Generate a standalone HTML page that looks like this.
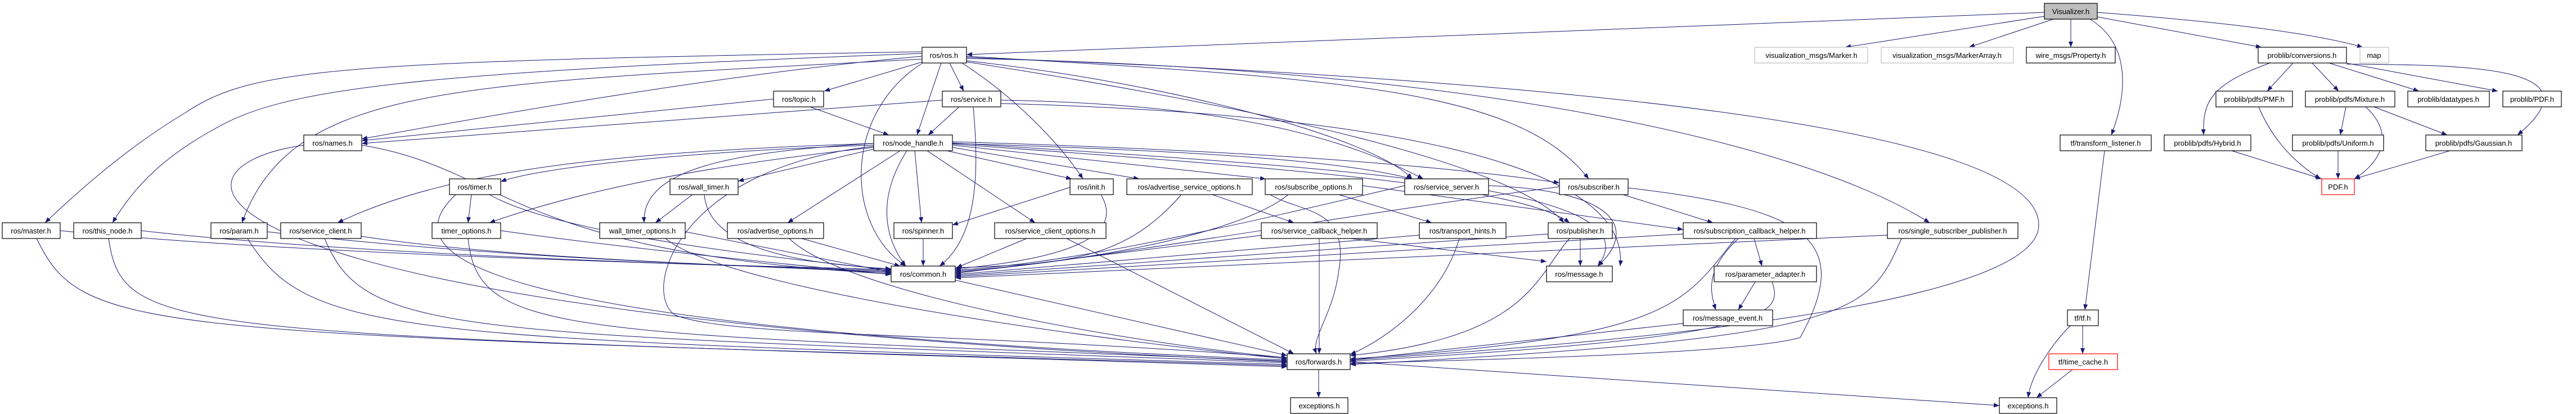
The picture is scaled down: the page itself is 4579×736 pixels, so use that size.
<!DOCTYPE html>
<html><head><meta charset="utf-8"><style>
html,body{margin:0;padding:0;background:#fff;}
svg{display:block;}
text{font-family:"Liberation Sans",sans-serif;font-size:13px;fill:#000;}
</style></head><body>
<svg width="4579" height="736" viewBox="0 0 4579 736" xmlns="http://www.w3.org/2000/svg">
<defs><marker id="a" viewBox="0 0 10 10" refX="10" refY="5" markerWidth="10" markerHeight="10" markerUnits="userSpaceOnUse" orient="auto"><path d="M0,1 L10,5 L0,9 z" fill="#191970"/></marker></defs>
<g fill="none" stroke="#191970" stroke-width="1" marker-end="url(#a)">
<!-- Visualizer -->
<path d="M3634,22 L1718,97"/>
<path d="M3640,28 L3280,84"/>
<path d="M3650,34 L3500,84"/>
<path d="M3681,34 L3681,84"/>
<path d="M3715,34 C3790,80 3780,170 3753,240"/>
<path d="M3728,30 L4020,84"/>
<path d="M3728,22 C3900,35 4100,55 4200,84"/>
<!-- conversions -->
<path d="M4035,112 C3930,150 3915,180 3917,240"/>
<path d="M4076,112 L4030,162"/>
<path d="M4110,112 L4157,162"/>
<path d="M4140,112 L4300,162"/>
<path d="M4170,112 L4440,162"/>
<path d="M4171,114 C4400,115 4620,120 4475,240"/>
<path d="M4015,190 C4040,250 4080,290 4125,318"/>
<path d="M4170,190 L4160,240"/>
<path d="M4205,190 C4260,240 4230,290 4185,318"/>
<path d="M4220,190 L4350,240"/>
<path d="M3967,268 L4127,318"/>
<path d="M4156,268 L4156,318"/>
<path d="M4355,268 L4185,318"/>
<path d="M3741,268 L3706,551"/>
<path d="M3680,579 C3640,620 3610,670 3605,707"/>
<path d="M3702,579 L3702,629"/>
<path d="M3684,657 L3620,707"/>
<path d="M2400,643 L3554,721"/>
<path d="M2344,657 L2344,707"/>
<!-- ros.h -->
<path d="M1640,110 L1465,162"/>
<path d="M1688,112 L1713,162"/>
<path d="M1673,112 L1630,240"/>
<path d="M1640,112 C1500,200 1500,400 1610,473"/>
<path d="M1710,112 C1800,170 1880,250 1925,318"/>
<path d="M1639,100 C1300,130 900,200 643,247"/>
<path d="M1639,92 C600,110 450,120 330,200 C230,260 150,330 80,396"/>
<path d="M1639,95 C700,130 500,160 380,230 C290,280 240,330 200,396"/>
<path d="M1639,105 C800,150 520,150 430,396"/>
<path d="M1718,100 C2400,140 2700,160 2824,318"/>
<path d="M1718,108 C2100,150 2450,250 2510,318"/>
<path d="M1718,110 C2300,200 2700,300 2780,396"/>
<path d="M1718,104 C2600,120 3200,250 3430,396"/>
<path d="M1718,102 C3000,150 3624,250 3624,400 C3624,560 2700,620 2400,640"/>
<!-- topic / service -->
<path d="M1440,190 L1580,240"/>
<path d="M1375,176 L643,250"/>
<path d="M1675,178 L643,255"/>
<path d="M1730,190 C1740,300 1740,420 1670,473"/>
<path d="M1779,178 C2200,185 2400,250 2530,318"/>
<path d="M1705,190 L1650,240"/>
<path d="M1779,184 C2400,200 2900,280 2880,473"/>
<!-- node_handle -->
<path d="M1553,265 L1312,322"/>
<path d="M1553,258 C1200,270 950,300 890,323"/>
<path d="M1553,262 C1200,300 1000,350 870,396"/>
<path d="M1553,255 C1300,270 1140,300 1145,396"/>
<path d="M1553,255 C1100,270 800,300 600,396"/>
<path d="M1600,268 L1400,396"/>
<path d="M1626,268 L1638,396"/>
<path d="M1612,268 C1560,350 1570,420 1610,473"/>
<path d="M1648,268 L1840,396"/>
<path d="M1683,268 L1905,318"/>
<path d="M1693,262 L2025,318"/>
<path d="M1693,258 L2250,318"/>
<path d="M1693,255 C2200,270 2400,290 2510,318"/>
<path d="M1693,252 C2300,270 2600,300 2772,325"/>
<path d="M1693,256 C2300,300 2700,330 2790,396"/>
<path d="M1693,254 C2400,300 2950,330 2840,473"/>
<path d="M1553,260 C1200,300 1140,520 1200,560 C1300,600 1700,590 2288,636"/>
<!-- row4 -->
<path d="M838,346 L832,396"/>
<path d="M870,346 C1000,420 1400,460 1584,480"/>
<path d="M810,346 C700,450 800,580 2288,640"/>
<path d="M1231,346 L1165,396"/>
<path d="M1252,346 C1260,450 1450,470 1584,478"/>
<path d="M1902,333 L1693,400"/>
<path d="M1957,346 C2000,420 1900,460 1698,478"/>
<path d="M2100,346 C2000,460 1900,470 1698,476"/>
<path d="M2155,346 L2300,396"/>
<path d="M2380,346 L2545,396"/>
<path d="M2290,346 C2200,420 1900,470 1698,482"/>
<path d="M2422,330 L2992,408"/>
<path d="M2497,330 C2200,400 1900,470 1698,480"/>
<path d="M2646,330 C2900,340 2900,420 2840,473"/>
<path d="M2772,332 C2400,380 1900,470 1698,484"/>
<path d="M2885,346 L3045,396"/>
<path d="M2894,334 C3200,370 3300,420 3200,600 C3100,630 2600,640 2400,646"/>
<path d="M2249,340 C2300,380 2400,360 2380,480 C2370,560 2330,600 2340,629"/>
<!-- row5 -->
<path d="M107,410 C500,450 1200,470 1584,479"/>
<path d="M65,424 C150,600 250,590 2288,650"/>
<path d="M251,410 C600,450 1200,470 1584,481"/>
<path d="M193,424 C220,600 300,590 2288,652"/>
<path d="M475,412 C800,450 1200,470 1584,483"/>
<path d="M440,424 C550,600 700,600 2288,648"/>
<path d="M642,420 C900,460 1300,470 1584,485"/>
<path d="M577,424 C650,600 800,590 2288,645"/>
<path d="M643,258 C900,300 900,450 1584,487"/>
<path d="M540,258 C250,300 300,560 2288,643"/>
<path d="M890,410 C1100,440 1400,470 1584,488"/>
<path d="M832,424 C850,600 1000,590 2288,642"/>
<path d="M1218,412 L1584,484"/>
<path d="M1183,424 C1300,520 2000,610 2288,638"/>
<path d="M1425,424 L1600,473"/>
<path d="M1403,424 C1500,520 2000,610 2288,636"/>
<path d="M1641,424 L1641,473"/>
<path d="M1825,424 L1700,476"/>
<path d="M1896,424 L2300,629"/>
<path d="M2245,418 L1698,486"/>
<path d="M2345,424 L2345,629"/>
<path d="M2400,424 L2749,465"/>
<path d="M2523,418 L1698,488"/>
<path d="M2594,424 C2560,540 2450,610 2400,630"/>
<path d="M2752,416 L1698,490"/>
<path d="M2809,424 L2809,473"/>
<path d="M2790,424 C2730,490 2720,600 2400,632"/>
<path d="M2992,416 L1698,492"/>
<path d="M3118,424 L3132,473"/>
<path d="M3090,424 C3030,480 3040,520 3050,551"/>
<path d="M3085,424 C2990,540 2980,600 2400,638"/>
<path d="M3355,418 L1698,494"/>
<path d="M3380,424 C3320,560 3300,600 2400,648"/>
<path d="M3120,501 L3090,551"/>
<path d="M3150,501 C3170,560 3150,600 2400,642"/>
<path d="M2992,575 L2400,640"/>
<path d="M1698,498 L2288,632"/>
</g>
<g stroke-width="1.2">
<rect x="3634" y="6" width="94" height="28" fill="#bfbfbf" stroke="#000"/>
<rect x="1639" y="84" width="79" height="28" fill="#fff" stroke="#000"/>
<rect x="3119" y="84" width="201" height="28" fill="#fff" stroke="#bfbfbf"/>
<rect x="3344" y="84" width="235" height="28" fill="#fff" stroke="#bfbfbf"/>
<rect x="3602" y="84" width="158" height="28" fill="#fff" stroke="#000"/>
<rect x="4014" y="84" width="157" height="28" fill="#fff" stroke="#000"/>
<rect x="4195" y="84" width="51" height="28" fill="#fff" stroke="#bfbfbf"/>
<rect x="1375" y="162" width="89" height="28" fill="#fff" stroke="#000"/>
<rect x="1675" y="162" width="104" height="28" fill="#fff" stroke="#000"/>
<rect x="3939" y="162" width="136" height="28" fill="#fff" stroke="#000"/>
<rect x="4098" y="162" width="159" height="28" fill="#fff" stroke="#000"/>
<rect x="4280" y="162" width="145" height="28" fill="#fff" stroke="#000"/>
<rect x="4449" y="162" width="104" height="28" fill="#fff" stroke="#000"/>
<rect x="540" y="240" width="103" height="28" fill="#fff" stroke="#000"/>
<rect x="1553" y="240" width="140" height="28" fill="#fff" stroke="#000"/>
<rect x="3662" y="240" width="162" height="28" fill="#fff" stroke="#000"/>
<rect x="3847" y="240" width="154" height="28" fill="#fff" stroke="#000"/>
<rect x="4075" y="240" width="162" height="28" fill="#fff" stroke="#000"/>
<rect x="4312" y="240" width="171" height="28" fill="#fff" stroke="#000"/>
<rect x="799" y="318" width="91" height="28" fill="#fff" stroke="#000"/>
<rect x="1191" y="318" width="121" height="28" fill="#fff" stroke="#000"/>
<rect x="1902" y="318" width="77" height="28" fill="#fff" stroke="#000"/>
<rect x="2003" y="318" width="223" height="28" fill="#fff" stroke="#000"/>
<rect x="2249" y="318" width="173" height="28" fill="#fff" stroke="#000"/>
<rect x="2497" y="318" width="149" height="28" fill="#fff" stroke="#000"/>
<rect x="2772" y="318" width="122" height="28" fill="#fff" stroke="#000"/>
<rect x="4127" y="318" width="58" height="28" fill="#fff" stroke="#ff0000"/>
<rect x="4" y="396" width="103" height="28" fill="#fff" stroke="#000"/>
<rect x="131" y="396" width="120" height="28" fill="#fff" stroke="#000"/>
<rect x="375" y="396" width="100" height="28" fill="#fff" stroke="#000"/>
<rect x="499" y="396" width="143" height="28" fill="#fff" stroke="#000"/>
<rect x="768" y="396" width="122" height="28" fill="#fff" stroke="#000"/>
<rect x="1066" y="396" width="152" height="28" fill="#fff" stroke="#000"/>
<rect x="1293" y="396" width="171" height="28" fill="#fff" stroke="#000"/>
<rect x="1589" y="396" width="104" height="28" fill="#fff" stroke="#000"/>
<rect x="1768" y="396" width="198" height="28" fill="#fff" stroke="#000"/>
<rect x="2242" y="396" width="206" height="28" fill="#fff" stroke="#000"/>
<rect x="2523" y="396" width="154" height="28" fill="#fff" stroke="#000"/>
<rect x="2752" y="396" width="114" height="28" fill="#fff" stroke="#000"/>
<rect x="2992" y="396" width="237" height="28" fill="#fff" stroke="#000"/>
<rect x="3355" y="396" width="232" height="28" fill="#fff" stroke="#000"/>
<rect x="1584" y="473" width="114" height="28" fill="#fff" stroke="#000"/>
<rect x="2749" y="473" width="117" height="28" fill="#fff" stroke="#000"/>
<rect x="3047" y="473" width="182" height="28" fill="#fff" stroke="#000"/>
<rect x="2992" y="551" width="159" height="28" fill="#fff" stroke="#000"/>
<rect x="3675" y="551" width="55" height="28" fill="#fff" stroke="#000"/>
<rect x="2288" y="629" width="112" height="28" fill="#fff" stroke="#000"/>
<rect x="3642" y="629" width="122" height="28" fill="#fff" stroke="#ff0000"/>
<rect x="2294" y="707" width="102" height="28" fill="#fff" stroke="#000"/>
<rect x="3554" y="707" width="102" height="28" fill="#fff" stroke="#000"/>
</g>
<g text-anchor="middle">
<text x="3681" y="25">Visualizer.h</text>
<text x="1678" y="103">ros/ros.h</text>
<text x="3220" y="103">visualization_msgs/Marker.h</text>
<text x="3461" y="103">visualization_msgs/MarkerArray.h</text>
<text x="3681" y="103">wire_msgs/Property.h</text>
<text x="4092" y="103">problib/conversions.h</text>
<text x="4220" y="103">map</text>
<text x="1420" y="181">ros/topic.h</text>
<text x="1727" y="181">ros/service.h</text>
<text x="4007" y="181">problib/pdfs/PMF.h</text>
<text x="4177" y="181">problib/pdfs/Mixture.h</text>
<text x="4352" y="181">problib/datatypes.h</text>
<text x="4501" y="181">problib/PDF.h</text>
<text x="591" y="259">ros/names.h</text>
<text x="1623" y="259">ros/node_handle.h</text>
<text x="3743" y="259">tf/transform_listener.h</text>
<text x="3924" y="259">problib/pdfs/Hybrid.h</text>
<text x="4156" y="259">problib/pdfs/Uniform.h</text>
<text x="4397" y="259">problib/pdfs/Gaussian.h</text>
<text x="844" y="337">ros/timer.h</text>
<text x="1251" y="337">ros/wall_timer.h</text>
<text x="1940" y="337">ros/init.h</text>
<text x="2114" y="337">ros/advertise_service_options.h</text>
<text x="2335" y="337">ros/subscribe_options.h</text>
<text x="2571" y="337">ros/service_server.h</text>
<text x="2833" y="337">ros/subscriber.h</text>
<text x="4156" y="337">PDF.h</text>
<text x="55" y="415">ros/master.h</text>
<text x="191" y="415">ros/this_node.h</text>
<text x="425" y="415">ros/param.h</text>
<text x="570" y="415">ros/service_client.h</text>
<text x="829" y="415">timer_options.h</text>
<text x="1142" y="415">wall_timer_options.h</text>
<text x="1378" y="415">ros/advertise_options.h</text>
<text x="1641" y="415">ros/spinner.h</text>
<text x="1867" y="415">ros/service_client_options.h</text>
<text x="2345" y="415">ros/service_callback_helper.h</text>
<text x="2600" y="415">ros/transport_hints.h</text>
<text x="2809" y="415">ros/publisher.h</text>
<text x="3110" y="415">ros/subscription_callback_helper.h</text>
<text x="3471" y="415">ros/single_subscriber_publisher.h</text>
<text x="1641" y="492">ros/common.h</text>
<text x="2807" y="492">ros/message.h</text>
<text x="3138" y="492">ros/parameter_adapter.h</text>
<text x="3071" y="570">ros/message_event.h</text>
<text x="3702" y="570">tf/tf.h</text>
<text x="2344" y="648">ros/forwards.h</text>
<text x="3703" y="648">tf/time_cache.h</text>
<text x="2345" y="726">exceptions.h</text>
<text x="3605" y="726">exceptions.h</text>
</g>
</svg>
</body></html>
